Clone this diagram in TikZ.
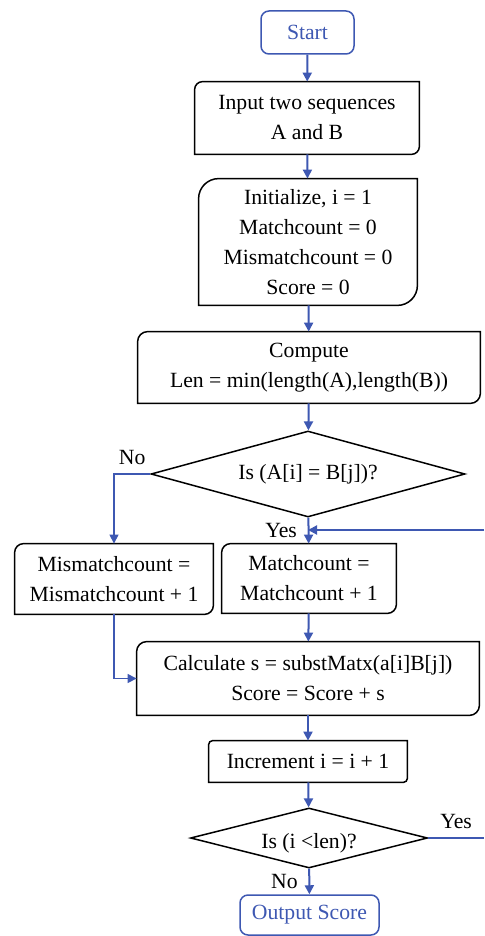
\documentclass[tikz,border=0pt]{standalone}
\usepackage{fontspec}
\setmainfont{Liberation Serif}
\usetikzlibrary{arrows.meta,shapes.geometric}

\definecolor{flowblue}{RGB}{62,88,178}

% box with the top left and bottom right corners rounded
\newcommand{\diagbox}[2]{%
	\draw[line width=0.75pt] ([xshift=#2]#1.north west) -- (#1.north east) -- ([yshift=#2]#1.south east)
		arc[start angle=0, end angle=-90, radius=#2] -- (#1.south west) -- ([yshift=-#2]#1.north west)
		arc[start angle=180, end angle=90, radius=#2] -- cycle;}

\begin{document}
\begin{tikzpicture}[x=0.5pt, y=-0.5pt, font=\fontsize{10.85}{15}\selectfont,
	arrows={-Triangle[width=4.5pt,length=4.5pt]},
	box/.style={inner sep=0pt, align=center},
	term/.style={draw=flowblue, text=flowblue, rounded corners=4pt, line width=0.75pt, inner sep=0pt},
	decision/.style={diamond, draw, line width=0.75pt, inner sep=0pt},
	flow/.style={draw=flowblue, line width=1pt},
	thin flow/.style={draw=flowblue, line width=0.6pt}]
	\useasboundingbox (0,0) rectangle (484,936);

	\node[term, minimum width=46.5pt, minimum height=21.5pt] (start) at (307.5,32.5) {Start};
	\node[box, minimum width=112pt, minimum height=36pt] (input) at (307,118) {Input two sequences\\A and B};
	\node[box, minimum width=109pt, minimum height=63pt] (init) at (308,242) {Initialize, i = 1\\Matchcount = 0\\Mismatchcount = 0\\Score = 0};
	\node[box, minimum width=171pt, minimum height=35.5pt] (len) at (309,367.5) {Compute\\Len = min(length(A),length(B))};
	\node[decision, aspect=3.65, minimum width=157pt, minimum height=43pt] (eq) at (308,474) {Is (A[i] = B[j])?};
	\node[box, minimum width=99pt, minimum height=35pt] (mism) at (114,579) {Mismatchcount =\\Mismatchcount + 1};
	\node[box, minimum width=87pt, minimum height=34.5pt] (match) at (309,578.5) {Matchcount =\\Matchcount + 1};
	\node[box, minimum width=171pt, minimum height=36.5pt] (calc) at (308,678.5) {Calculate s = substMatx(a[i]B[j])\\Score = Score + s};
	\node[box, minimum width=99pt, minimum height=20.5pt] (incr) at (308,761.5) {Increment i = i + 1};
	\node[decision, aspect=3.95, minimum width=118.5pt, minimum height=30pt] (less) at (309,838) {\raisebox{-5.2pt}[0pt][0pt]{Is (i <len)?}};
	\node[term, minimum width=69.5pt, minimum height=20pt] (out) at (309.5,915) {Output Score};

	\coordinate (loopin) at (484,530);
	\coordinate (loopout) at (484,838);

	\diagbox{input}{4pt}
	\diagbox{init}{10pt}
	\diagbox{len}{5pt}
	\diagbox{mism}{4.5pt}
	\diagbox{match}{4.5pt}
	\diagbox{calc}{5pt}
	\diagbox{incr}{2pt}

	\draw[flow] (start) -- (input);
	\draw[flow] (input) -- (init);
	\draw[flow] (init) -- (len);
	\draw[flow] (len) -- (eq);
	\draw[thin flow] (eq.west) -| node[pos=0.25, above, yshift=1pt] {No} (mism.north);
	\draw[flow] (eq) -- node[left, xshift=-2pt] {Yes} (match);
	\draw[flow] (loopin) -- (eq.south |- loopin);
	\draw[thin flow] (mism.south) |- (calc.west);
	\draw[flow] (match) -- (calc);
	\draw[flow] (calc) -- (incr);
	\draw[flow] (incr) -- (less);
	\draw[thin flow, -] (less.east) -- node[above, yshift=1pt] {Yes} (loopout);
	\draw[flow] (less) -- node[left, xshift=-2pt] {No} (out);
\end{tikzpicture}
\end{document}
